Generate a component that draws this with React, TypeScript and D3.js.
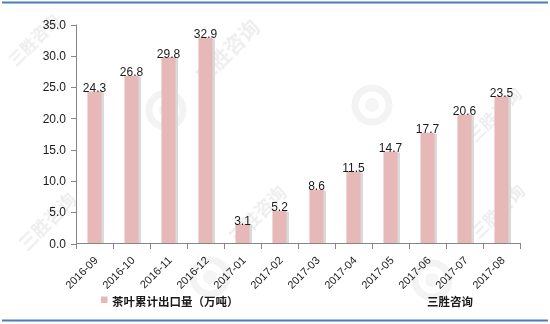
import React from "react";
import * as d3 from "d3";

const categories = ["2016-09","2016-10","2016-11","2016-12","2017-01","2017-02","2017-03","2017-04","2017-05","2017-06","2017-07","2017-08"];
const values = [24.3, 26.8, 29.8, 32.9, 3.1, 5.2, 8.6, 11.5, 14.7, 17.7, 20.6, 23.5];
const yTicks = [0, 5, 10, 15, 20, 25, 30, 35];
const seriesName = "茶叶累计出口量（万吨）";
const sourceName = "三胜咨询";
const watermarkText = "三胜咨询";

const W = 550, H = 324;
const FONT = "'Liberation Sans', Arial, sans-serif";
const CJK = "'Noto Sans CJK SC', 'Noto Sans', sans-serif";

export default function App() {
  const x = d3.scaleBand<string>().domain(categories).range([76, 520]).paddingInner(0.62).paddingOuter(0.31);
  const y = d3.scaleLinear().domain([0, 35]).range([243.5, 24.5]);
  const step = x.step();
  const bw = x.bandwidth();
  const y0 = y(0);

  const wm = [
    { cx: 34, cy: 40, s: 16 },
    { cx: 228, cy: 52, s: 20 },
    { cx: 48, cy: 222, s: 18 },
    { cx: 258, cy: 215, s: 18 },
    { cx: 495, cy: 115, s: 17 },
    { cx: 498, cy: 212, s: 17 },
  ];
  const logos = [
    { cx: 166, cy: 110 },
    { cx: 372, cy: 105 },
    { cx: 210, cy: 277 },
    { cx: 432, cy: 280 },
  ];

  return (
    <svg width={W} height={H} style={{ position: "absolute", left: 0, top: 0, background: "#fff" }}>
      <rect x={0} y={0} width={W} height={H} fill="#fff" />
      {/* watermarks */}
      <g opacity={0.45}>
        {wm.map((d, i) => (
          <text key={i} transform={`translate(${d.cx},${d.cy}) rotate(-45)`} textAnchor="middle" dy="0.35em" fontFamily={CJK} fontWeight="bold" fontSize={d.s} fill="#d8d8d8">{watermarkText}</text>
        ))}
        {logos.map((d, i) => (
          <g key={"l" + i}>
            <circle cx={d.cx} cy={d.cy} r={17} fill="none" stroke="#e4e4e4" strokeWidth={7} />
            <circle cx={d.cx} cy={d.cy} r={7} fill="#e8e8e8" />
          </g>
        ))}
      </g>

      {/* frame lines */}
      <line x1={2} x2={548} y1={2.5} y2={2.5} stroke="#4a7ebb" strokeWidth={2} />
      <line x1={2} x2={548} y1={320.5} y2={320.5} stroke="#4a7ebb" strokeWidth={2} />

      {/* bars */}
      {categories.map((c, i) => {
        const bx = x(c)!;
        const top = y(values[i]);
        return (
          <g key={c}>
            <rect x={bx + 1.5} y={top + 1} width={bw + 1} height={y0 - top - 1} fill="#dadada" />
            <rect x={bx} y={top} width={bw} height={y0 - top} fill="#e6b8b7" />
          </g>
        );
      })}

      {/* y axis */}
      <line x1={76.5} x2={76.5} y1={y(35)} y2={y0} stroke="#868686" />
      {yTicks.map(t => (
        <g key={t}>
          <line x1={71} x2={76.5} y1={Math.round(y(t)) + 0.5} y2={Math.round(y(t)) + 0.5} stroke="#868686" />
          <text x={66} y={y(t)} dy="0.35em" textAnchor="end" fontFamily={FONT} fontSize={12} fill="#1a1a1a">{t.toFixed(1)}</text>
        </g>
      ))}

      {/* x axis */}
      <line x1={76} x2={521} y1={243.5} y2={243.5} stroke="#868686" />
      {d3.range(categories.length + 1).map(i => (
        <line key={i} x1={76.5 + i * step} x2={76.5 + i * step} y1={243.5} y2={249} stroke="#868686" />
      ))}
      {categories.map(c => {
        const cx = x(c)! + bw / 2;
        return (
          <text key={c} transform={`translate(${cx + 4},${261}) rotate(-45)`} textAnchor="end" fontFamily={FONT} fontSize={11} fill="#1a1a1a">{c}</text>
        );
      })}

      {/* data labels */}
      {categories.map((c, i) => (
        <text key={c} x={x(c)! + bw / 2} y={y(values[i]) + 0.5} textAnchor="middle" fontFamily={FONT} fontSize={12} fill="#1a1a1a">{values[i].toFixed(1)}</text>
      ))}

      {/* legend */}
      <rect x={101} y={296.5} width={6.5} height={6.5} fill="#e6b8b7" />
      <text x={112} y={302} dy="0.35em" fontFamily={CJK} fontWeight="bold" fontSize={11.5} fill="#1a1a1a">{seriesName}</text>
      <text x={427} y={302} dy="0.35em" fontFamily={CJK} fontWeight="bold" fontSize={11.5} fill="#1a1a1a">{sourceName}</text>
    </svg>
  );
}
